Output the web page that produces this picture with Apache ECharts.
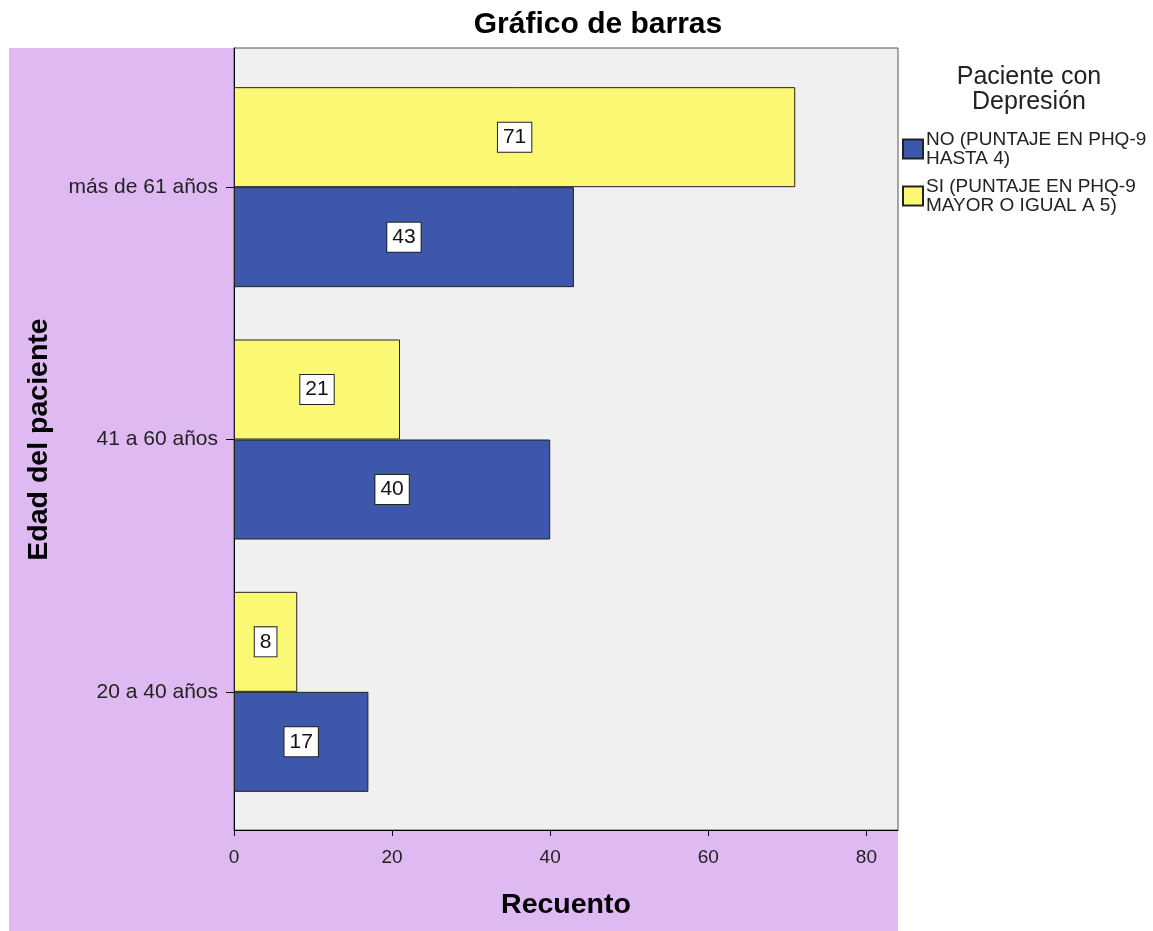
<!DOCTYPE html>
<html>
<head>
<meta charset="utf-8">
<script src="https://cdn.jsdelivr.net/npm/echarts@6/dist/echarts.min.js"></script>
<style>html,body{margin:0;padding:0;background:#fff;}#c{width:1153px;height:931px;}</style>
</head>
<body>
<div id="c"></div>
<script>
const chartTitle = 'Gráfico de barras';
const legendTitle = 'Paciente con\nDepresión';
const categories = ['20 a 40 años', '41 a 60 años', 'más de 61 años'];
const seriesNames = ['NO (PUNTAJE EN PHQ-9\nHASTA 4)', 'SI (PUNTAJE EN PHQ-9\nMAYOR O IGUAL A 5)'];
const noValues = [17, 40, 43];
const siValues = [8, 21, 71];
const xTicks = [0, 20, 40, 60, 80];
const xMin = 0, xMax = 84;
const xName = 'Recuento';
const yName = 'Edad del paciente';

const FONT = '"Liberation Sans", Arial, sans-serif';
const labelStyle = {
  show: true, position: 'inside', color: '#111', fontSize: 21,
  fontFamily: '"Liberation Sans Narrow", "Liberation Sans", Arial, sans-serif',
  backgroundColor: '#fff', borderColor: '#222', borderWidth: 1, padding: [4, 5]
};

const chart = echarts.init(document.getElementById('c'), null, {renderer: 'canvas'});
chart.setOption({
  animation: false,
  textStyle: {fontFamily: FONT},
  title: [
    {text: chartTitle, left: 593, top: 5, textAlign: 'center',
     textStyle: {fontSize: 30, fontWeight: 'bold', color: '#000', fontFamily: FONT}},
    {text: legendTitle, left: 1024, top: 60, textAlign: 'center',
     textStyle: {fontSize: 25, fontWeight: 'normal', color: '#222', lineHeight: 25, fontFamily: FONT}}
  ],
  legend: {
    data: seriesNames, orient: 'vertical', left: 897, top: 123,
    itemWidth: 20, itemHeight: 19, itemGap: 5, icon: 'rect',
    textStyle: {fontSize: 19, lineHeight: 19, color: '#222', fontFamily: FONT, padding: [4,0,0,-2]}
  },
  grid: [
    {left: 9, right: 255, top: 48, bottom: 0, show: true, backgroundColor: '#dfbaf2', borderWidth: 0},
    {left: 234, right: 255, top: 48, bottom: 101, show: true, backgroundColor: '#f0f0f0', borderColor: '#555', borderWidth: 1},
    {left: 234, right: 255, top: 61, bottom: 113}
  ],
  xAxis: [
    {gridIndex: 0, type: 'value', show: false},
    {gridIndex: 1, type: 'value', min: xMin, max: xMax,
     axisLine: {show: true, lineStyle: {color: '#000', width: 1}},
     axisTick: {show: true, length: 6, lineStyle: {color: '#000'}, customValues: xTicks},
     axisLabel: {color: '#222', fontSize: 19, margin: 18, customValues: xTicks},
     splitLine: {show: false},
     name: xName, nameLocation: 'middle', nameGap: 61,
     nameTextStyle: {fontSize: 28.5, fontWeight: 'bold', color: '#000'}},
    {gridIndex: 2, type: 'value', min: xMin, max: xMax, show: false}
  ],
  yAxis: [
    {gridIndex: 0, type: 'value', show: false},
    {gridIndex: 1, type: 'value', axisLine: {show: true, lineStyle: {color: '#000', width: 1}},
     axisTick: {show: false}, axisLabel: {show: false}, splitLine: {show: false}},
    {gridIndex: 2, type: 'category', data: categories,
     axisLine: {show: false},
     axisTick: {show: true, alignWithLabel: true, length: 8, lineStyle: {color: '#000'}},
     axisLabel: {color: '#222', fontSize: 21, margin: 16},
     name: yName, nameLocation: 'middle', nameGap: 180,
     nameTextStyle: {fontSize: 28.5, fontWeight: 'bold', color: '#000'}}
  ],
  series: [
    {name: seriesNames[1], type: 'bar', xAxisIndex: 2, yAxisIndex: 2, data: siValues,
     barWidth: 100, barGap: '0%',
     itemStyle: {color: '#fbf874', borderColor: '#222', borderWidth: 1},
     label: labelStyle, emphasis: {disabled: true}},
    {name: seriesNames[0], type: 'bar', xAxisIndex: 2, yAxisIndex: 2, data: noValues,
     barWidth: 100, barGap: '0%',
     itemStyle: {color: '#3d57aa', borderColor: '#222', borderWidth: 1},
     label: labelStyle, emphasis: {disabled: true}}
  ]
});
</script>
</body>
</html>
